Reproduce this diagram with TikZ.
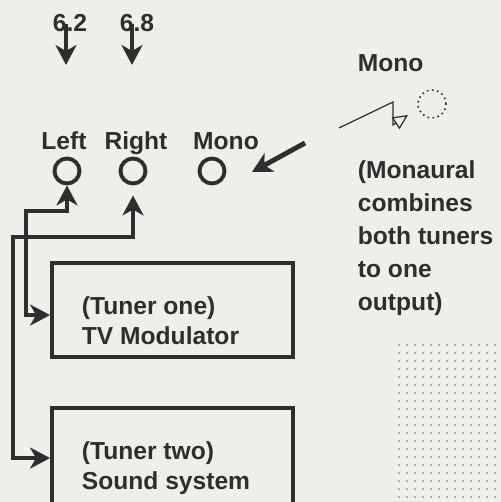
\documentclass[tikz,border=0pt]{standalone}
\usepackage{fontspec}
\setmainfont{Liberation Sans}
\usetikzlibrary{arrows.meta}
\definecolor{ink}{HTML}{2E2E2E}
\definecolor{paper}{HTML}{EFEEEA}
\definecolor{stipple}{HTML}{8C8C8C}

\begin{document}
\begin{tikzpicture}[
    line width=2.2pt, >={Stealth[length=4.0mm,width=4.2mm,inset=1.2mm]},
    color=ink,
    lab/.style={font=\fontsize{14}{17}\selectfont\bfseries, text=ink, inner sep=0pt},
    note/.style={font=\fontsize{14}{18.8}\selectfont\bfseries, text=ink, inner sep=0pt, align=left},
    jack/.style={circle, draw=ink, line width=2.2pt, minimum size=0.5cm, inner sep=0pt},
    unit/.style={rectangle, draw=ink, line width=2.2pt, minimum width=4.82cm, minimum height=1.88cm, inner sep=0pt},
    wire/.style={<->, line width=2.2pt}]
  % fixed canvas, 10.02 cm x 10.04 cm
  \path[use as bounding box] (0,0) rectangle (10.02,10.04);
  \clip (0,0) rectangle (10.02,10.04);
  \fill[paper] (0,0) rectangle (10.02,10.04);

  % ---- stippled panel (bottom right) ----
  \foreach \i in {0,...,12}
    \foreach \j in {0,...,19}
      \fill[stipple] (7.98+0.16*\i,3.14-0.16*\j) circle (0.02);

  % ---- frequencies ----
  \node[lab, anchor=base] (f62) at (1.40,9.40) {6.2};
  \node[lab, anchor=base] (f68) at (2.74,9.40) {6.8};
  \coordinate (t62) at (1.32,8.74);
  \coordinate (t68) at (2.64,8.74);
  \draw[->] (t62 |- f62.center) -- (t62);
  \draw[->] (t68 |- f68.center) -- (t68);

  % ---- output jacks ----
  \node[jack] (left) at (1.34,6.62) {};
  \node[jack] (right) at (2.66,6.62) {};
  \node[jack] (mono) at (4.24,6.62) {};
  \node[lab, anchor=base] (leftlab) at (1.28,7.04) {Left};
  \node[lab, anchor=base] (rightlab) at (2.72,7.04) {Right};
  \node[lab, anchor=base] (monolab) at (4.52,7.04) {Mono};

  % pointer to the mono jack
  \coordinate (mtail) at (6.10,7.18);
  \coordinate (mtip) at (5.04,6.60);
  \draw[->, line width=2.8pt] (mtail) -- (mtip);

  % ---- mono switch symbol ----
  \node[lab, anchor=base west] (monohead) at (7.12,8.60) {Mono};
  \node[circle, draw=ink, dotted, line width=0.9pt, minimum size=0.56cm, inner sep=0pt] (monodot) at (8.64,7.96) {};
  \coordinate (zz) at (6.78,7.48);
  \coordinate (zztip) at (8.16,7.74);
  \draw[line width=0.7pt, -{Triangle[open, length=3.0mm, width=2.8mm]}]
    (zz) -- (7.86,8.00) -- (7.86,7.54) -- (zztip);
  \node[note, anchor=north west] (monanote) at (7.12,6.86)
    {(Monaural\\combines\\both tuners\\to one\\output)};

  % ---- tuners ----
  \node[unit] (tvbox) at (3.45,3.84) {};
  \node[unit, minimum height=2.3cm] (sndbox) at (3.45,0.73) {};
  \node[lab, align=left, anchor=north west] (tvtext) at (1.60,4.14) {(Tuner one)\\TV Modulator};
  \node[lab, align=left, anchor=north west] (sndtext) at (1.60,1.24) {(Tuner two)\\Sound system};

  % ---- wiring: Left -> tuner one, Right -> tuner two ----
  \draw[wire] ([yshift=-1.08cm]tvbox.north west) -| (0.52,5.82) -| (left.south);
  \draw[wire, shorten >=0.2cm] ([yshift=-1.04cm]sndbox.north west) -| (0.26,5.30) -| (right.south);
\end{tikzpicture}
\end{document}
